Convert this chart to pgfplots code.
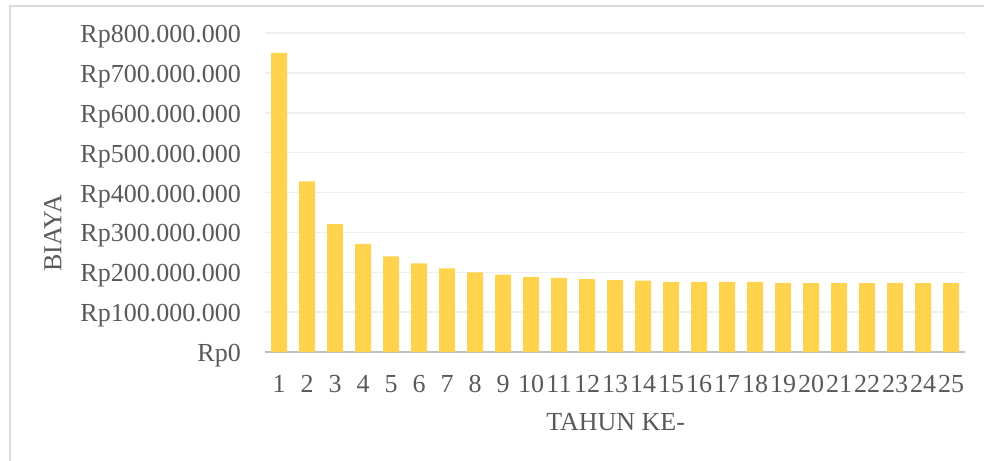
\documentclass[border=0pt]{standalone}
\usepackage{fontspec}
\setmainfont{Liberation Serif}
\usepackage{pgfplots}
\pgfplotsset{compat=1.18}
\definecolor{barcol}{HTML}{FFD34D}
\definecolor{txtcol}{HTML}{595959}
\definecolor{gridcol}{HTML}{EFEFEF}
\definecolor{axcol}{HTML}{BFBFBF}
\definecolor{framecol}{HTML}{D9D9D9}
\begin{document}
\begin{tikzpicture}
\path[use as bounding box] (0,0) rectangle (984bp,461bp);
\draw[line width=2.5bp, color=framecol] (10bp,0) -- (10bp,455bp) -- (984bp,455bp);
\begin{axis}[
  at={(265bp,109bp)}, anchor=south west,
  scale only axis, width=700bp, height=319bp,
  ybar, bar width=16bp,
  xmin=0.5, xmax=25.5, ymin=0, ymax=800000000,
  xtick={1,...,25},
  xticklabels={1,2,3,4,5,6,7,8,9,10,11,12,13,14,15,16,17,18,19,20,21,22,23,24,25},
  ytick={0,100000000,200000000,300000000,400000000,500000000,600000000,700000000,800000000},
  yticklabels={Rp0,Rp100.000.000,Rp200.000.000,Rp300.000.000,Rp400.000.000,Rp500.000.000,Rp600.000.000,Rp700.000.000,Rp800.000.000},
  scaled y ticks=false,
  /pgf/number format/assume math mode=true,
  major tick length=0pt,
  axis lines*=left,
  y axis line style={draw=none},
  x axis line style={draw=axcol, line width=2bp},
  ymajorgrids, major grid style={draw=gridcol, line width=1.5bp},
  every tick label/.append style={font=\fontsize{26bp}{31bp}\selectfont, text=txtcol, inner sep=0pt},
  xticklabel style={anchor=north}, xticklabel shift=23bp,
  yticklabel style={anchor=base east, yshift=-9.5bp}, yticklabel shift=24bp,
  label style={font=\fontsize{26bp}{31bp}\selectfont, text=txtcol},
  xlabel={TAHUN KE-},
  ylabel={BIAYA},
  xlabel style={at={(axis description cs:0.501,-0.219)}, anchor=center},
  ylabel style={at={(axis description cs:-0.303,0.373)}, anchor=center},
  clip=false,
]
\addplot[fill=barcol, draw=none] coordinates {
(1,750000000) (2,428000000) (3,321000000) (4,271000000) (5,240000000)
(6,222000000) (7,210000000) (8,200000000) (9,194000000) (10,188000000)
(11,186000000) (12,183000000) (13,180000000) (14,179000000) (15,176000000)
(16,176000000) (17,176000000) (18,176000000) (19,173000000) (20,173000000)
(21,173000000) (22,173000000) (23,173000000) (24,173000000) (25,173000000)
};
\end{axis}
\end{tikzpicture}
\end{document}
